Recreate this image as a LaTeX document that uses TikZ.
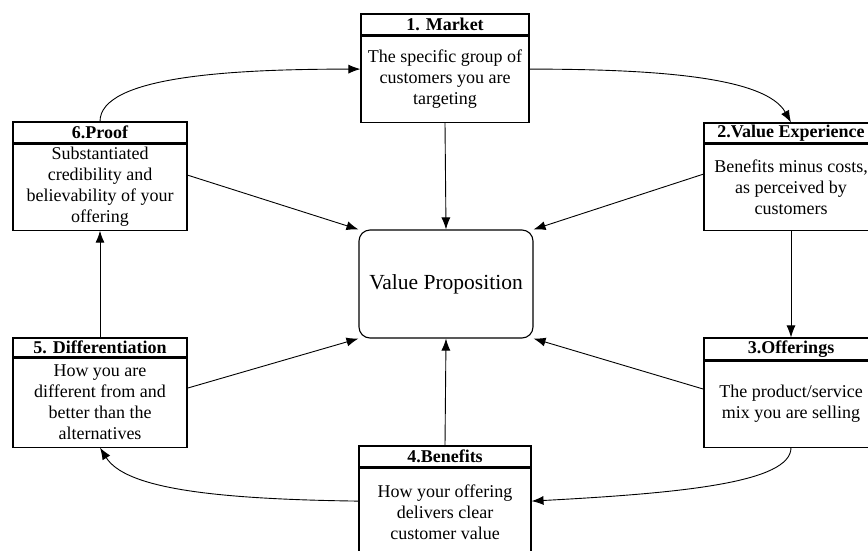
\documentclass[tikz,border=0pt]{standalone}
\usepackage{fontspec}
\setmainfont{Liberation Serif}
\usetikzlibrary{arrows.meta,calc}

\begin{document}
\begin{tikzpicture}[x=1pt,y=-1pt,
  hdr/.style={draw,line width=1.1pt,inner sep=0pt,
    font=\fontsize{18}{21}\selectfont\bfseries,align=center},
  bdy/.style={draw,line width=1.1pt,inner sep=0pt,
    font=\fontsize{18}{21}\selectfont,align=center},
  hub/.style={draw,line width=1.1pt,rounded corners=11pt,
    minimum width=174pt,minimum height=108pt,
    font=\fontsize{21.5}{25}\selectfont},
  link/.style={line width=0.9pt,-{Latex[length=12pt,width=9pt]}}
]
\useasboundingbox (0,0) rectangle (868,550);
\clip (0,0) rectangle (868,550);

% central hub
\node[hub] (vp) at (446,284) {Value Proposition};

% 1. Market
\node[hdr,minimum width=168pt,minimum height=21pt] (mkth) at (445,24.5) {1. Market};
\node[bdy,minimum width=168pt,minimum height=86pt,anchor=north] (mktb) at (mkth.south)
  {The specific group of\\customers you are\\targeting};

% 2. Value Experience
\node[hdr,minimum width=174pt,minimum height=20pt] (veh) at (791,133) {2.Value Experience};
\node[bdy,minimum width=174pt,minimum height=86pt,anchor=north] (veb) at (veh.south)
  {Benefits minus costs,\\as perceived by\\customers};

% 3. Offerings
\node[hdr,minimum width=174pt,minimum height=22pt] (offh) at (791,349) {3.Offerings};
\node[bdy,minimum width=174pt,minimum height=86pt,anchor=north] (offb) at (offh.south)
  {The product/service\\mix you are selling};

% 4. Benefits
\node[hdr,minimum width=172pt,minimum height=21pt] (benh) at (445,456.5) {4.Benefits};
\node[bdy,minimum width=172pt,minimum height=88pt,anchor=north] (benb) at (benh.south)
  {How your offering\\delivers clear\\customer value};

% 5. Differentiation
\node[hdr,minimum width=174pt,minimum height=19pt] (difh) at (100,347.5) {5. Differentiation};
\node[bdy,minimum width=174pt,minimum height=89pt,anchor=north] (difb) at (difh.south)
  {How you are\\different from and\\better than the\\alternatives};

% 6. Proof
\node[hdr,minimum width=174pt,minimum height=21pt] (prfh) at (100,132.5) {6.Proof};
\node[bdy,minimum width=174pt,minimum height=86pt,anchor=north] (prfb) at (prfh.south)
  {Substantiated\\credibility and\\believability of your\\offering};

% spokes into the hub
\draw[link] (mktb.south) -- (vp.north);
\draw[link] (benh.north) -- (vp.south);
\draw[link] ([yshift=12pt]prfb.east) -- (vp.north west);
\draw[link] ([yshift=13pt]veb.west) -- (vp.north east);
\draw[link] ([yshift=14.5pt]difb.east) -- (vp.south west);
\draw[link] ([yshift=15pt]offb.west) -- (vp.south east);

% outer cycle
\draw[link] (prfh.north) .. controls +(0,-45) and +(-130,0) .. ([yshift=10pt]mktb.west);
\draw[link] ([yshift=10pt]mktb.east) .. controls +(130,0) and +(-25,-45) .. (veh.north);
\draw[link] (veb.south) -- (offh.north);
\draw[link] (offb.south) .. controls +(0,35) and +(150,-8) .. ([yshift=11pt]benb.east);
\draw[link] ([yshift=11pt]benb.west) .. controls +(-150,-2) and +(25,40) .. (difb.south);
\draw[link] (difh.north) -- (prfb.south);
\end{tikzpicture}
\end{document}
